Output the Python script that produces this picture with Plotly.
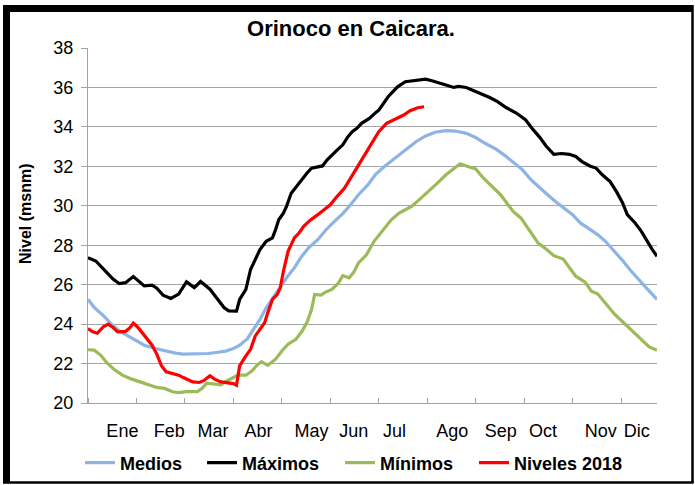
import plotly.graph_objects as go

# ---- data (day of year, level in msnm) ----
maximos_dia = [1, 6, 12, 17, 21, 25, 30, 34, 37, 42, 45, 49, 54, 59, 64, 69, 73, 79, 84, 88, 91, 96, 98,
               102, 105, 108, 111, 115, 119, 121, 123, 126, 128, 131, 135, 138, 141, 144, 148, 151, 154,
               157, 160, 164, 167, 170, 173, 176, 181, 185, 187, 193, 199, 204, 211, 217, 221, 226, 231,
               235, 238, 243, 247, 252, 258, 263, 268, 275, 281, 285, 290, 294, 299, 304, 309, 313, 317,
               322, 326, 330, 335, 339, 343, 346, 351, 355, 358, 362, 365]
maximos_nivel = [27.37, 27.2, 26.7, 26.28, 26.06, 26.1, 26.41, 26.14, 25.94, 25.97, 25.82, 25.47, 25.3,
                 25.52, 26.14, 25.85, 26.16, 25.77, 25.26, 24.84, 24.67, 24.66, 25.25, 25.76, 26.77,
                 27.27, 27.78, 28.2, 28.37, 28.79, 29.29, 29.63, 29.97, 30.64, 31.06, 31.4, 31.65,
                 31.91, 31.99, 32.02, 32.33, 32.58, 32.8, 33.09, 33.47, 33.76, 33.93, 34.18, 34.43,
                 34.72, 34.85, 35.53, 36.03, 36.29, 36.37, 36.42, 36.34, 36.2, 36.1, 36.0, 36.05, 36.0,
                 35.87, 35.7, 35.49, 35.28, 35.0, 34.7, 34.35, 33.93, 33.47, 33.03, 32.61, 32.65, 32.61,
                 32.5, 32.24, 32.02, 31.91, 31.57, 31.23, 30.73, 30.14, 29.55, 29.13, 28.7, 28.28,
                 27.78, 27.44]

medios_dia = [1, 5, 11, 16, 21, 27, 32, 37, 44, 50, 57, 62, 67, 73, 78, 83, 89, 94, 98, 103, 107, 111,
              115, 120, 124, 128, 133, 137, 142, 148, 153, 158, 164, 169, 174, 180, 185, 191, 198, 204,
              211, 217, 223, 230, 236, 243, 249, 255, 262, 268, 274, 279, 284, 290, 295, 300, 306, 311,
              316, 322, 327, 332, 338, 343, 348, 354, 359, 365]
medios_nivel = [25.26, 24.84, 24.42, 24.0, 23.66, 23.37, 23.14, 22.93, 22.76, 22.65, 22.53, 22.48, 22.49,
                22.48, 22.51, 22.56, 22.63, 22.76, 22.93, 23.26, 23.73, 24.24, 24.83, 25.38, 25.87,
                26.35, 26.85, 27.36, 27.86, 28.28, 28.76, 29.16, 29.6, 30.05, 30.56, 31.06, 31.6,
                32.02, 32.46, 32.87, 33.26, 33.54, 33.73, 33.81, 33.79, 33.67, 33.46, 33.17, 32.87,
                32.53, 32.16, 31.82, 31.35, 30.89, 30.56, 30.22, 29.88, 29.55, 29.13, 28.79, 28.54,
                28.2, 27.69, 27.22, 26.73, 26.23, 25.76, 25.25]

minimos_dia = [1, 5, 9, 13, 18, 23, 29, 34, 40, 45, 50, 55, 59, 64, 71, 74, 77, 81, 86, 90, 93, 97, 102,
               106, 109, 112, 116, 121, 125, 129, 134, 138, 141, 144, 146, 150, 153, 157, 161, 164, 168,
               171, 174, 179, 184, 189, 195, 200, 208, 214, 219, 224, 230, 235, 239, 244, 249, 254, 260,
               265, 269, 273, 278, 283, 289, 294, 299, 305, 309, 313, 319, 323, 327, 332, 338, 343, 347,
               352, 356, 360, 365]
minimos_nivel = [22.7, 22.68, 22.43, 22.05, 21.68, 21.41, 21.21, 21.09, 20.92, 20.79, 20.74, 20.57,
                 20.53, 20.58, 20.58, 20.74, 21.01, 20.96, 20.92, 21.13, 21.27, 21.41, 21.41, 21.63,
                 21.91, 22.1, 21.91, 22.22, 22.64, 22.98, 23.23, 23.65, 24.07, 24.74, 25.5, 25.47,
                 25.62, 25.76, 26.06, 26.46, 26.35, 26.63, 27.1, 27.5, 28.2, 28.7, 29.29, 29.63,
                 29.97, 30.39, 30.73, 31.11, 31.57, 31.91, 32.13, 31.99, 31.87, 31.4, 30.93, 30.56,
                 30.13, 29.71, 29.37, 28.78, 28.11, 27.81, 27.47, 27.3, 26.85, 26.43, 26.13, 25.67,
                 25.54, 25.08, 24.49, 24.12, 23.81, 23.43, 23.14, 22.84, 22.67]

niveles2018_dia = [1, 4, 7, 11, 14, 17, 20, 25, 28, 30, 33, 37, 42, 45, 48, 51, 55, 59, 62, 65, 68, 72,
                   75, 79, 82, 86, 90, 94, 96, 98, 102, 105, 108, 111, 114, 116, 119, 122, 124, 126, 129,
                   133, 136, 139, 143, 148, 152, 156, 160, 165, 169, 173, 177, 182, 187, 192, 198, 203,
                   207, 212, 216]
niveles2018_nivel = [23.78, 23.61, 23.54, 23.88, 24.0, 23.83, 23.61, 23.63, 23.83, 24.05, 23.83, 23.45,
                     22.93, 22.48, 21.89, 21.58, 21.5, 21.41, 21.29, 21.16, 21.07, 21.04, 21.13, 21.38,
                     21.21, 21.07, 21.02, 20.98, 20.9, 21.88, 22.39, 22.72, 23.4, 23.73, 24.07, 24.58,
                     25.25, 25.5, 25.84, 26.68, 27.69, 28.37, 28.62, 28.96, 29.26, 29.55, 29.8, 30.05,
                     30.44, 30.89, 31.4, 31.91, 32.46, 33.1, 33.76, 34.18, 34.43, 34.6, 34.82, 34.97,
                     35.02]

mes_dia = [23, 53, 81, 110, 144, 171, 197, 234, 265, 292, 329, 352]
mes_texto = ["Ene", "Feb", "Mar", "Abr", "May", "Jun", "Jul", "Ago", "Sep", "Oct", "Nov", "Dic"]
y_ticks = [20, 22, 24, 26, 28, 30, 32, 34, 36, 38]

FONT = "Liberation Sans, Arial, sans-serif"
GRID = "#a3a3a3"

L, R, T, B = 88, 38, 48, 82
W, H = 695, 485
pw, ph = W - L - R, H - T - B


def px(xpix):
    return (xpix - L) / pw


def py(ypix):
    return (H - B - ypix) / ph


fig = go.Figure()
series = [
    ("Medios", medios_dia, medios_nivel, "#8EB4E3", "legend", 86),
    ("Máximos", maximos_dia, maximos_nivel, "#000000", "legend2", 208),
    ("Mínimos", minimos_dia, minimos_nivel, "#9BBB59", "legend3", 346),
    ("Niveles 2018", niveles2018_dia, niveles2018_nivel, "#FF0000", "legend4", 480),
]
legend_layouts = {}
for name, xs, ys, col, leg, lx in series:
    fig.add_trace(go.Scatter(x=xs, y=ys, mode="lines", name=name, legend=leg,
                             line=dict(color=col, width=3.2)))
    legend_layouts[leg] = dict(
        orientation="h", x=px(lx - 6), xanchor="left", y=py(463), yanchor="middle",
        font=dict(family=FONT, size=18, color="black", weight="bold"),
        bgcolor="rgba(0,0,0,0)", itemwidth=30,
    )

shapes = [
    dict(type="line", xref="paper", yref="paper", x0=px(6.5), x1=px(6.5), y0=py(5), y1=py(483),
         line=dict(color="black", width=7)),
    dict(type="line", xref="paper", yref="paper", x0=px(3), x1=px(693), y0=py(8.5), y1=py(8.5),
         line=dict(color="black", width=7)),
    dict(type="line", xref="paper", yref="paper", x0=px(692.5), x1=px(692.5), y0=py(5), y1=py(483),
         line=dict(color="black", width=2.5)),
    dict(type="line", xref="paper", yref="paper", x0=px(3), x1=px(693.5), y0=py(482.5), y1=py(482.5),
         line=dict(color="black", width=2.5)),
]

fig.update_layout(
    width=W, height=H,
    margin=dict(l=L, r=R, t=T, b=B, autoexpand=False),
    paper_bgcolor="white", plot_bgcolor="white",
    font=dict(family=FONT, color="black", size=18),
    title=dict(text="<b>Orinoco en Caicara.</b>", x=351 / W, xanchor="center",
               y=1 - 28 / H, yanchor="middle", xref="container", yref="container",
               font=dict(family=FONT, size=22, color="black")),
    showlegend=True,
    shapes=shapes,
    annotations=[dict(text="<b>Nivel (msnm)</b>", xref="paper", yref="paper", x=px(25), y=py(214),
                      xanchor="center", yanchor="middle", textangle=-90, showarrow=False,
                      font=dict(family=FONT, size=16, color="black"))],
    **legend_layouts,
)

fig.update_xaxes(
    range=[1, 365], tickmode="array", tickvals=mes_dia, ticktext=mes_texto, ticks="",
    showgrid=False, zeroline=False, showline=True, linecolor=GRID, linewidth=1,
    tickfont=dict(family=FONT, size=18, color="black"), ticklabelstandoff=11,
    minor=dict(tickmode="array", tickvals=list(range(1, 366, 31)), ticks="inside", ticklen=5,
               tickcolor=GRID, tickwidth=1, showgrid=False),
)
fig.update_yaxes(
    range=[20, 38], tickmode="array", tickvals=y_ticks, ticks="outside", ticklen=6,
    tickcolor=GRID, tickwidth=1, showgrid=True, gridcolor=GRID, gridwidth=1, zeroline=False,
    showline=True, linecolor=GRID, linewidth=1,
    tickfont=dict(family=FONT, size=18, color="black"), ticklabelstandoff=4,
)

fig.write_html("out.html", config={"displayModeBar": False},
               post_script="document.body.style.margin='0px';")
